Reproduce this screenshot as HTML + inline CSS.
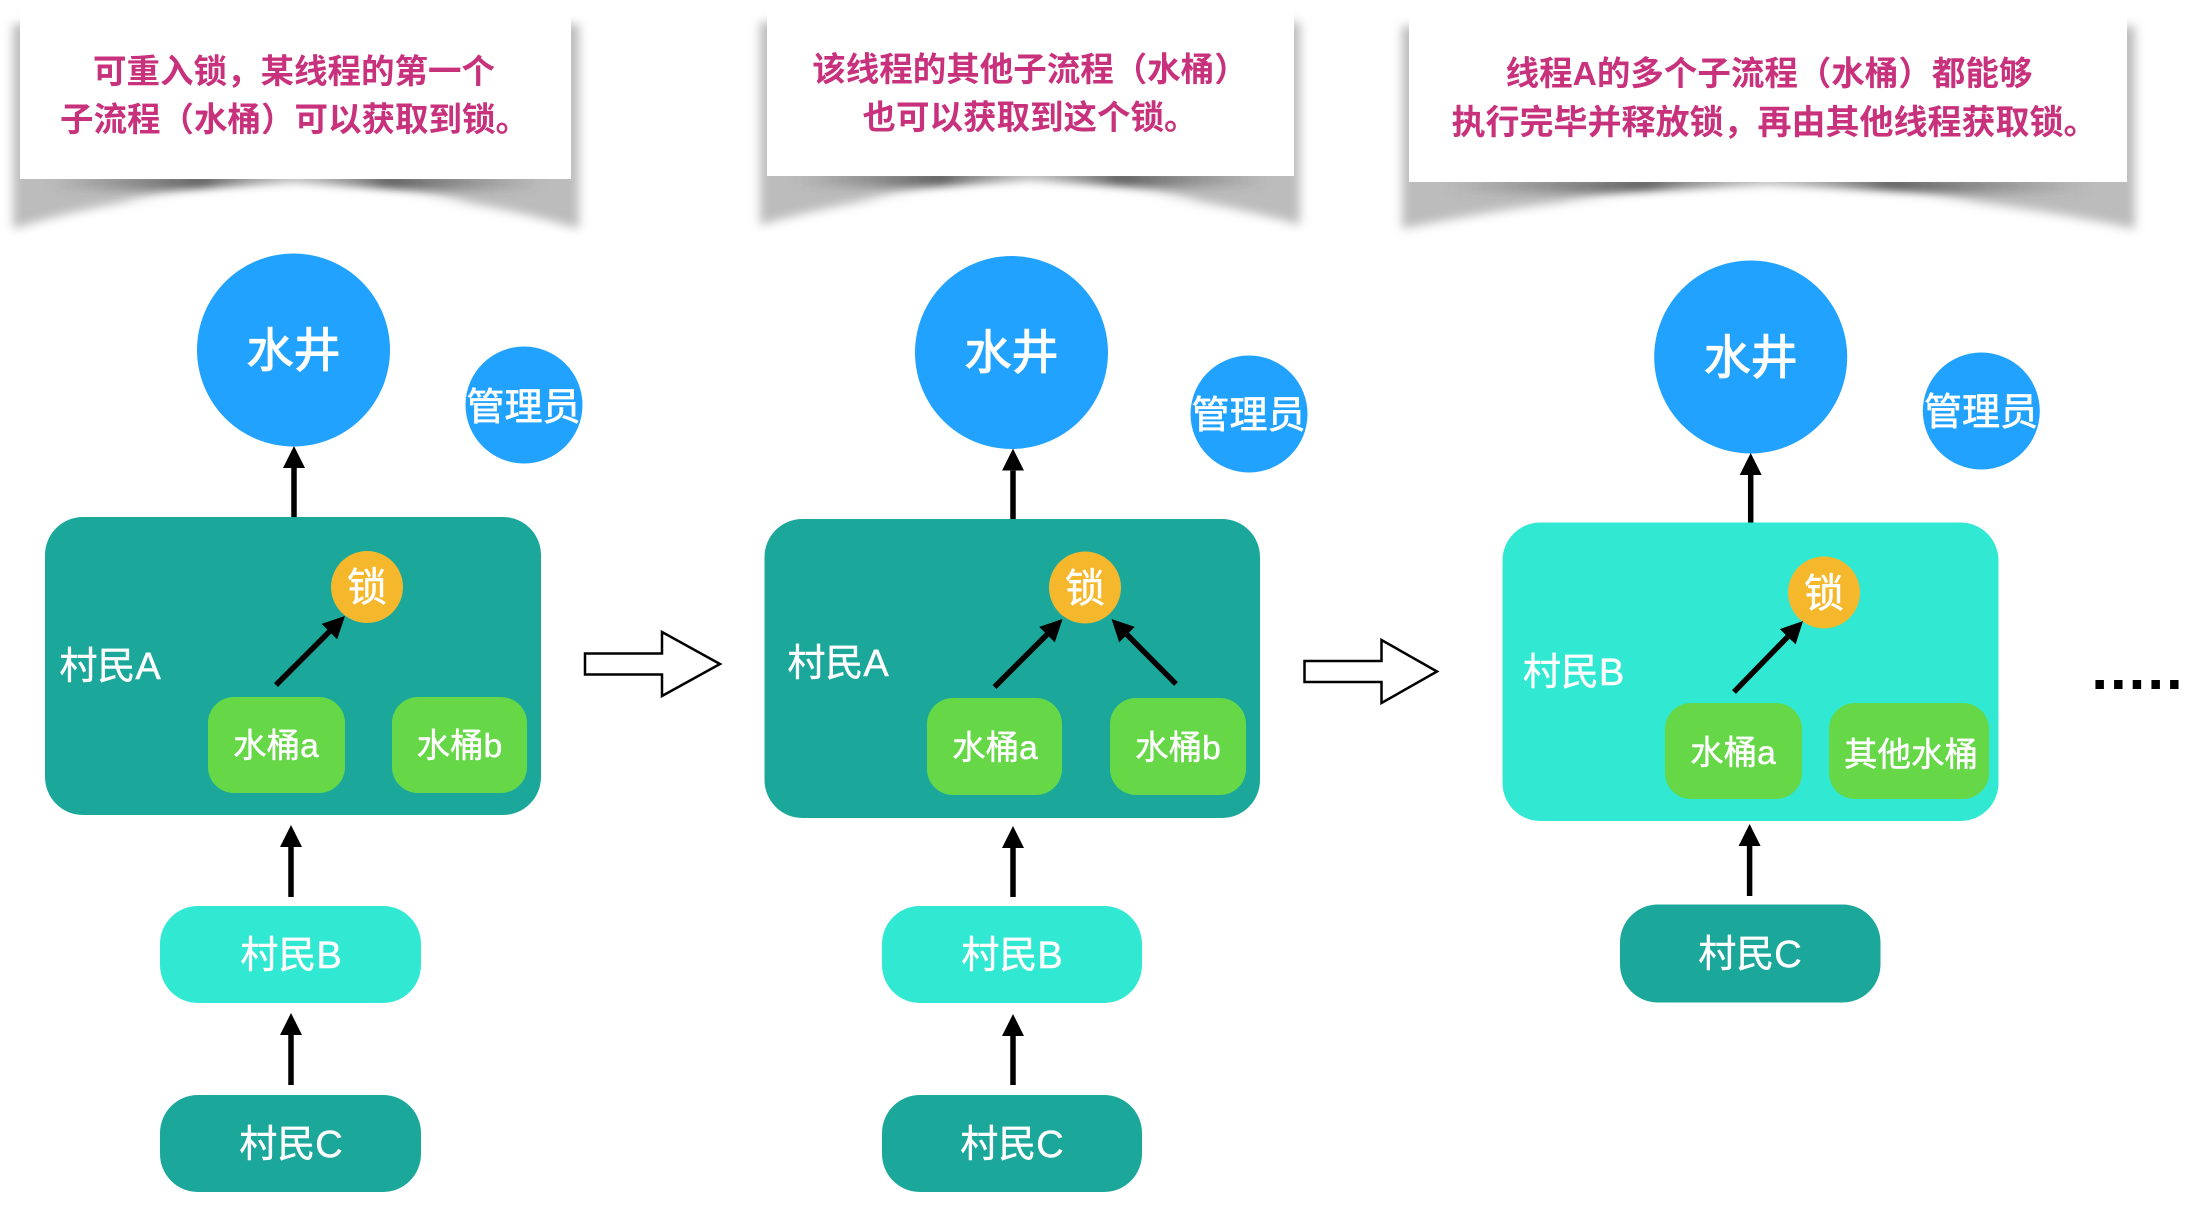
<!DOCTYPE html>
<html lang="zh"><head><meta charset="utf-8"><title>可重入锁</title>
<style>
html,body{margin:0;padding:0;background:#fff}
svg{display:block}
text{font-family:"Liberation Sans","Noto Sans CJK SC",sans-serif;fill:#fff;text-anchor:middle;stroke:#fff;stroke-width:.45px}
.n{font-size:38px}.w{font-size:47px;stroke-width:1.1px}.g{font-size:38px;stroke-width:.7px}.b{font-size:33.5px}.l{font-size:40px}
.t{font-size:33.5px;fill:#c8317c;font-weight:700;stroke:none}
.ar{stroke:#000;stroke-width:5.5;fill:none}
</style></head><body>
<svg width="2212" height="1208" viewBox="0 0 2212 1208" xmlns="http://www.w3.org/2000/svg">
<defs>
<filter id="bl" x="-5%" y="-15%" width="110%" height="130%"><feGaussianBlur stdDeviation="5"/></filter>
<filter id="bl2" x="-5%" y="-80%" width="110%" height="260%"><feGaussianBlur stdDeviation="5"/></filter>
<linearGradient id="dk" x1="0" x2="1" y1="0" y2="0">
<stop offset=".05" stop-color="#555" stop-opacity="0"/><stop offset=".33" stop-color="#444" stop-opacity=".8"/><stop offset=".44" stop-color="#666" stop-opacity=".3"/><stop offset=".5" stop-color="#888" stop-opacity="0"/><stop offset=".56" stop-color="#666" stop-opacity=".3"/><stop offset=".67" stop-color="#444" stop-opacity=".8"/><stop offset=".95" stop-color="#555" stop-opacity="0"/>
</linearGradient>
<marker id="h" markerUnits="userSpaceOnUse" markerWidth="24" markerHeight="24" refX="0" refY="11.5" orient="auto"><path d="M0 .5L22 11.5L0 22.5z" fill="#000"/></marker>
</defs>

<!-- card 1 -->
<path d="M13 24H579V229C490 202 390 188 293 188S100 202 13 229Z" fill="#bcbcbc" filter="url(#bl)"/>
<rect x="20" y="174" width="551" height="16" fill="url(#dk)" filter="url(#bl2)"/>
<path d="M292 184C230 187 170 193 120 205L292 212L470 205C420 193 350 187 292 184Z" fill="#fff" filter="url(#bl2)"/>
<rect x="20" y="13" width="551" height="166" fill="#fff"/>
<text class="t" x="294" y="83">可重入锁&#xFF0C;某线程的第一个</text>
<text class="t" x="294.500" y="131">子流程&#xFF08;水桶&#xFF09;可以获取到锁&#x3002;</text>

<!-- card 2 -->
<path d="M760 22H1300V225C1210 200 1120 186 1030 186S850 200 760 225Z" fill="#bcbcbc" filter="url(#bl)"/>
<rect x="767" y="171" width="527" height="16" fill="url(#dk)" filter="url(#bl2)"/>
<path d="M1030 182C970 185 910 191 860 203L1030 210L1200 203C1150 191 1090 185 1030 182Z" fill="#fff" filter="url(#bl2)"/>
<rect x="767" y="11" width="527" height="165" fill="#fff"/>
<text class="t" x="1030" y="81">该线程的其他子流程&#xFF08;水桶&#xFF09;</text>
<text class="t" x="1030" y="129">也可以获取到这个锁&#x3002;</text>

<!-- card 3 -->
<path d="M1402 26H2135V229C2010 203 1890 189 1768 189S1530 203 1402 229Z" fill="#bcbcbc" filter="url(#bl)"/>
<rect x="1409" y="177" width="718" height="16" fill="url(#dk)" filter="url(#bl2)"/>
<path d="M1768 187C1690 189 1620 194 1560 206L1768 213L1980 206C1920 194 1850 189 1768 187Z" fill="#fff" filter="url(#bl2)"/>
<rect x="1409" y="14" width="718" height="168" fill="#fff"/>
<text class="t" x="1769" y="85">线程A的多个子流程&#xFF08;水桶&#xFF09;都能够</text>
<text class="t" x="1774.500" y="134" style="font-size:34px">执行完毕并释放锁&#xFF0C;再由其他线程获取锁&#x3002;</text>

<!-- panel 1 -->
<circle cx="293.5" cy="350" r="96.5" fill="#22a2ff"/><text class="w" x="293.5" y="367">水井</text>
<circle cx="524" cy="405" r="58.5" fill="#22a2ff"/><text class="g" x="523.5" y="420">管理员</text>
<line class="ar" x1="294" y1="518" x2="294" y2="468" marker-end="url(#h)"/>
<rect x="45" y="517" width="496" height="298" rx="38" fill="#1ba89b"/>
<circle cx="367" cy="587" r="36" fill="#f5b82c"/><text class="l" x="367" y="601">锁</text>
<text class="n" x="110" y="679">村民A</text>
<rect x="208" y="697" width="137" height="96" rx="26" fill="#66d848"/><text class="b" x="276" y="757">水桶a</text>
<rect x="392" y="697" width="135" height="96" rx="26" fill="#66d848"/><text class="b" x="459.500" y="757">水桶b</text>
<line class="ar" x1="276" y1="685" x2="329.4" y2="631.6" marker-end="url(#h)"/>
<line class="ar" x1="291" y1="897" x2="291" y2="847" marker-end="url(#h)"/>
<rect x="160" y="906" width="261" height="97" rx="38" fill="#31e8d2"/><text class="n" x="291" y="968">村民B</text>
<line class="ar" x1="291" y1="1085" x2="291" y2="1035" marker-end="url(#h)"/>
<rect x="160" y="1095" width="261" height="97" rx="38" fill="#1ba89b"/><text class="n" x="291" y="1157">村民C</text>
<path d="M585 653.5H662V632L720 664L662 696V674.5H585Z" fill="#fff" stroke="#000" stroke-width="2.5"/>

<!-- panel 2 -->
<circle cx="1011.5" cy="352.5" r="96.5" fill="#22a2ff"/><text class="w" x="1011.5" y="369">水井</text>
<circle cx="1249" cy="414" r="58.5" fill="#22a2ff"/><text class="g" x="1248.500" y="428">管理员</text>
<line class="ar" x1="1013" y1="519" x2="1013" y2="470.6" marker-end="url(#h)"/>
<rect x="764.5" y="519" width="495.500" height="299" rx="38" fill="#1ba89b"/>
<circle cx="1085" cy="587.500" r="36" fill="#f5b82c"/><text class="l" x="1085" y="602">锁</text>
<text class="n" x="838" y="676">村民A</text>
<rect x="927" y="698" width="135" height="97" rx="26" fill="#66d848"/><text class="b" x="995" y="759">水桶a</text>
<rect x="1110" y="698" width="136" height="97" rx="26" fill="#66d848"/><text class="b" x="1178" y="759">水桶b</text>
<line class="ar" x1="994.5" y1="687" x2="1047" y2="634.6" marker-end="url(#h)"/>
<line class="ar" x1="1176" y1="684" x2="1127" y2="634.6" marker-end="url(#h)"/>
<line class="ar" x1="1013" y1="897" x2="1013" y2="848" marker-end="url(#h)"/>
<rect x="882" y="906" width="260" height="97" rx="38" fill="#31e8d2"/><text class="n" x="1012" y="968">村民B</text>
<line class="ar" x1="1013" y1="1085" x2="1013" y2="1036" marker-end="url(#h)"/>
<rect x="882" y="1095" width="260" height="97" rx="38" fill="#1ba89b"/><text class="n" x="1012" y="1157">村民C</text>
<path d="M1304.500 661H1381.500V640L1437 671.500L1381.500 703V682H1304.500Z" fill="#fff" stroke="#000" stroke-width="2.5"/>

<!-- panel 3 -->
<circle cx="1750.7" cy="357" r="96.5" fill="#22a2ff"/><text class="w" x="1750.7" y="374">水井</text>
<circle cx="1981.3" cy="411" r="58.5" fill="#22a2ff"/><text class="g" x="1981" y="425">管理员</text>
<line class="ar" x1="1750.7" y1="524" x2="1750.7" y2="475" marker-end="url(#h)"/>
<rect x="1502.500" y="522.500" width="496" height="298.500" rx="38" fill="#31e8d2"/>
<circle cx="1824" cy="592.500" r="36" fill="#f5b82c"/><text class="l" x="1824" y="607">锁</text>
<text class="n" x="1573.500" y="685">村民B</text>
<rect x="1665" y="703" width="137" height="96" rx="26" fill="#66d848"/><text class="b" x="1733" y="764">水桶a</text>
<rect x="1829" y="703" width="160" height="96" rx="26" fill="#66d848"/><text class="b" x="1911" y="766">其他水桶</text>
<line class="ar" x1="1734" y1="692" x2="1787.7" y2="636.8" marker-end="url(#h)"/>
<line class="ar" x1="1749.6" y1="896" x2="1749.6" y2="846" marker-end="url(#h)"/>
<rect x="1620" y="904.500" width="260.500" height="98" rx="38" fill="#1ba89b"/><text class="n" x="1750" y="967">村民C</text>
<text x="2138" y="689" style="font-size:60px;font-weight:700;fill:#000;stroke:none;letter-spacing:2px">.....</text>
</svg>
</body></html>
